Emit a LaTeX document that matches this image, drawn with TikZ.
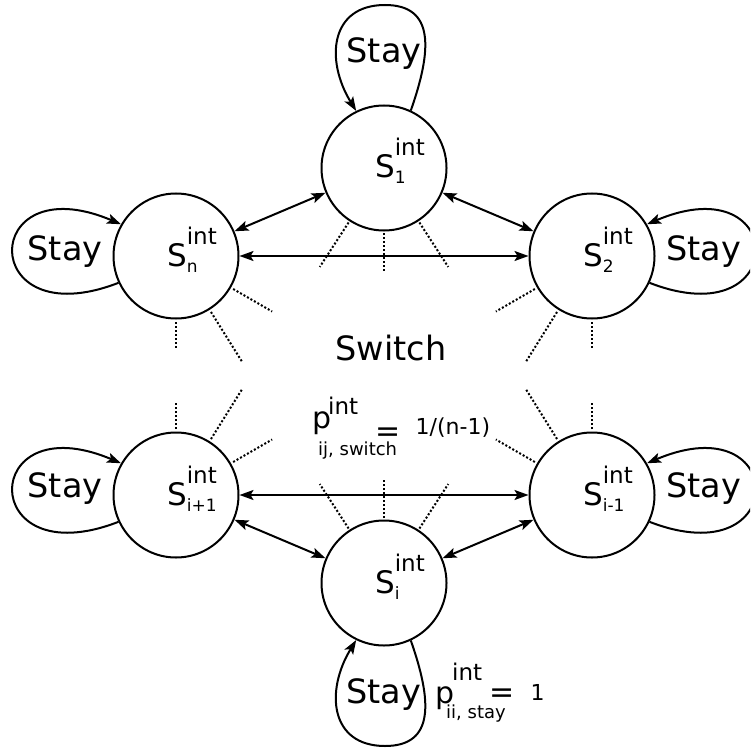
\documentclass[tikz,border=0pt]{standalone}
\usepackage{fontspec}
\setmainfont{DejaVu Sans}
\usetikzlibrary{arrows.meta,calc}
\newcommand{\fs}[1]{\fontsize{#1}{#1}\selectfont}
\newcommand{\stlbl}[1]{\fs{31}S\rlap{\raisebox{22pt}{\fs{23}int}}\rlap{\raisebox{-6pt}{\fs{17}#1}}}
\newcommand{\stub}[4]{\draw[dots] ($(#1.center)!#3pt!(#1.#2)$) -- ($(#1.center)!#4pt!(#1.#2)$);}
\begin{document}
\begin{tikzpicture}[x=1pt,y=-1pt,
  state/.style={circle,draw,line width=2pt,minimum size=125pt,inner sep=0pt},
  lbl/.style={anchor=base,inner sep=0pt},
  tip/.tip={Stealth[length=14pt,width=10pt,inset=3pt]},
  dbl/.style={line width=2pt,tip-tip},
  loopy/.style={line width=2pt,-tip},
  dots/.style={line width=2pt,dash pattern=on 2pt off 2pt},
  stay/.style={anchor=base,inner sep=0pt,font=\fs{33.5}},
  txt/.style={anchor=base west,inner sep=0pt},
]
\clip (0,0) rectangle (750,751);
\node[state] (S1) at (384,168) {};
\node[state] (Sn) at (176,256) {};
\node[state] (S2) at (592,256) {};
\node[state] (Sip) at (176,495) {};
\node[state] (Sim) at (592,495) {};
\node[state] (Si) at (384,583) {};

\node[lbl] (L1) at (385,178) {\stlbl{1}};
\node[lbl] (Ln) at (177,266) {\stlbl{n}};
\node[lbl] (L2) at (593,266) {\stlbl{2}};
\node[lbl] (Lip) at (177,505) {\stlbl{i+1}};
\node[lbl] (Lim) at (593,505) {\stlbl{i-1}};
\node[lbl] (Li) at (385,593) {\stlbl{i}};

\draw[dbl] (Sn) -- (S1);
\draw[dbl] (S1) -- (S2);
\draw[dbl] (Sn) -- (S2);
\draw[dbl] (Sip) -- (Sim);
\draw[dbl] (Sip) -- (Si);
\draw[dbl] (Si) -- (Sim);

\draw[loopy] (S1.65) .. controls (432,50) and (435,5) .. (385,5)
  .. controls (330,5) and (325,60) .. (S1.116);
\draw[loopy] (Si.-65) .. controls (432,701) and (435,746) .. (385,746)
  .. controls (330,746) and (325,691) .. (Si.-116);
\draw[loopy] (Sn.205) .. controls +(-142,55) and +(-142,-60) .. (Sn.150);
\draw[loopy] (Sip.205) .. controls +(-142,55) and +(-142,-60) .. (Sip.150);
\draw[loopy] (S2.-25) .. controls +(142,55) and +(142,-60) .. (S2.30);
\draw[loopy] (Sim.-25) .. controls +(142,55) and +(142,-60) .. (Sim.30);

\node[stay] (st1) at (384,63) {Stay};
\node[stay] (stn) at (65,260) {Stay};
\node[stay] (st2) at (703.5,260) {Stay};
\node[stay] (stip) at (65,497) {Stay};
\node[stay] (stim) at (703.5,497) {Stay};
\node[stay] (sti) at (383.5,703) {Stay};

\stub{S1}{-57}{65}{118}
\stub{S1}{-90}{65}{103}
\stub{S1}{-123}{65}{118}
\stub{Si}{57}{65}{118}
\stub{Si}{90}{65}{103}
\stub{Si}{123}{65}{118}
\stub{Sn}{-30}{66}{111}
\stub{Sn}{-58}{66}{125}
\stub{Sn}{-90}{66}{92}
\stub{S2}{-150}{66}{111}
\stub{S2}{-122}{66}{125}
\stub{S2}{-90}{66}{92}
\stub{Sip}{30}{66}{111}
\stub{Sip}{58}{66}{125}
\stub{Sip}{90}{66}{92}
\stub{Sim}{150}{66}{111}
\stub{Sim}{122}{66}{125}
\stub{Sim}{90}{66}{92}

\node[stay] (sw) at (391,360) {Switch};

\node[txt,font=\fs{30}] (p1) at (312,428) {p};
\node[txt,font=\fs{23}] (p1sup) at (328,414) {int};
\node[txt,font=\fs{18}] (p1sub) at (318,455) {ij, switch};
\node[lbl,font=\fs{30}] (p1eq) at (388,441) {=};
\node[txt,font=\fs{22}] (p1val) at (415.5,434) {1/(n-1)};

\node[txt,font=\fs{30}] (p2) at (435,703) {p};
\node[txt,font=\fs{23}] (p2sup) at (452,680) {int};
\node[txt,font=\fs{18}] (p2sub) at (446,718) {ii, stay};
\node[lbl,font=\fs{30}] (p2eq) at (502.5,702) {=};
\node[txt,font=\fs{22}] (p2val) at (530.5,700) {1};
\end{tikzpicture}
\end{document}
